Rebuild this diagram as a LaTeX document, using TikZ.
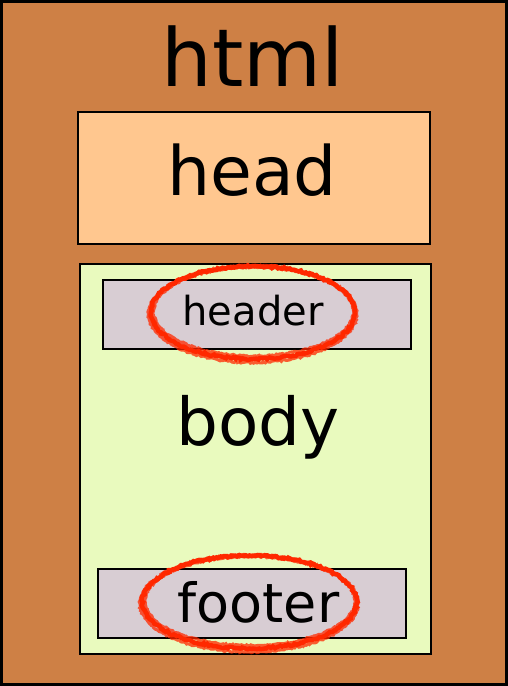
\documentclass[tikz,border=0pt]{standalone}
\usepackage{fontspec}
\setmainfont{DejaVu Sans}
\usetikzlibrary{decorations.pathmorphing}
\definecolor{htmlc}{RGB}{206,128,69}
\definecolor{headc}{RGB}{255,199,143}
\definecolor{bodyc}{RGB}{233,250,190}
\definecolor{boxc}{RGB}{216,205,211}
\definecolor{redc}{RGB}{255,40,0}
\begin{document}
\begin{tikzpicture}[x=1pt,y=-1pt,
  frame/.style={draw=black,line width=3pt},
  inner/.style={draw=black,line width=2.5pt},
  lbl/.style={anchor=base,inner sep=0pt},
  mark1/.style={draw=redc,line width=4.5pt,decorate,decoration={random steps,segment length=2pt,amplitude=1pt}},
  mark2/.style={draw=redc,line width=3pt,opacity=0.75,decorate,decoration={random steps,segment length=1.5pt,amplitude=0.8pt}}]
\useasboundingbox (0,0) rectangle (508,686);
\path[frame,fill=htmlc] (1.5,1.5) rectangle (506.5,684.5);
\node[lbl,font=\fontsize{80}{80}\selectfont] (html) at (253,86) {html};
\path[inner,fill=headc] (78,112) rectangle (430,244);
\node[lbl,font=\fontsize{68}{68}\selectfont] (head) at (252,195) {head};
\path[inner,fill=bodyc] (80,264) rectangle (431,654);
\node[lbl,font=\fontsize{66}{66}\selectfont] (body) at (258,445) {body};
\path[draw=black,line width=2pt,fill=boxc] (103,280) rectangle (411,349);
\node[lbl,font=\fontsize{40}{40}\selectfont] (header) at (253,325) {header};
\path[draw=black,line width=2pt,fill=boxc] (98,569) rectangle (406,638);
\node[lbl,font=\fontsize{54}{54}\selectfont] (footer) at (258.5,622) {footer};
% hand-drawn red marks
\draw[mark1] (253,312.5) ellipse [x radius=102, y radius=46.5];
\draw[mark2] (253.5,311.5) ellipse [x radius=100, y radius=44.5];
\draw[mark2] (252.5,314) ellipse [x radius=104, y radius=48.5];
\draw[mark1] (249.5,602) ellipse [x radius=107, y radius=46.5];
\draw[mark2] (250,601) ellipse [x radius=105, y radius=44.5];
\draw[mark2] (249,603.5) ellipse [x radius=109, y radius=48.5];
\end{tikzpicture}
\end{document}
